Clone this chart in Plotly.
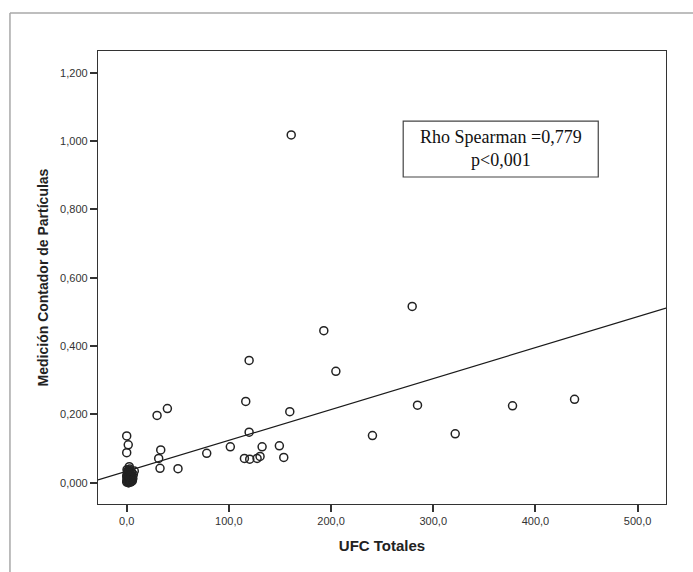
import plotly.graph_objects as go

# UFC Totales (x) and Medición Contador de Partículas (y)
ufc = [161.0, 279.4, 192.9, 119.8, 204.7, 116.5, 159.6, 284.6, 377.6, 438.3,
       119.8, 240.5, 321.5, 101.4, 132.5, 149.4, 115.2, 120.4, 127.6, 130.5,
       153.7, 29.7, 39.8, 0.0, 1.5, 0.0, 33.3, 31.3, 78.3, 32.6, 50.2,
       0.0, 0.5, 1.0, 1.5, 2.0, 0.0, 2.5, 3.0, 1.0, 4.0, 5.0, 7.4, 6.0, 3.5,
       0.3, 4.5, 2.0, 1.0, 5.5, 3.0, 6.5, 2.5, 0.8, 4.2,
       0.2, 1.2, 2.2, 3.2, 4.2, 5.2, 0.6, 1.8, 2.8, 3.8, 4.8, 1.4, 2.4, 3.4,
       0.4, 1.6, 2.6, 3.6, 4.6, 5.0, 0.9, 2.0, 3.0]
medicion = [1.018, 0.516, 0.445, 0.358, 0.326, 0.238, 0.208, 0.227, 0.225, 0.244,
            0.148, 0.138, 0.143, 0.105, 0.105, 0.108, 0.071, 0.069, 0.071, 0.077,
            0.074, 0.197, 0.217, 0.137, 0.111, 0.088, 0.096, 0.071, 0.086, 0.042, 0.041,
            0.002, 0.005, 0.010, 0.003, 0.015, 0.020, 0.047, 0.040, 0.030, 0.025, 0.030,
            0.034, 0.012, 0.008, 0.038, 0.018, 0.000, 0.022, 0.005, 0.028, 0.024,
            0.033, 0.014, 0.006,
            0.008, 0.012, 0.004, 0.016, 0.010, 0.020, 0.026, 0.018, 0.024, 0.002,
            0.014, 0.030, 0.008, 0.022, 0.014, 0.000, 0.018, 0.012, 0.004, 0.016,
            0.034, 0.028, 0.036]

# Fit line (intercept, slope)
fit_intercept = 0.0334
fit_slope = 0.000905

x_range = [-28.1, 527.8]
y_range = [-0.0623, 1.2635]
x_ticks = [0, 100, 200, 300, 400, 500]
x_ticktext = ["0,0", "100,0", "200,0", "300,0", "400,0", "500,0"]
y_ticks = [0, 0.2, 0.4, 0.6, 0.8, 1.0, 1.2]
y_ticktext = ["0,000", "0,200", "0,400", "0,600", "0,800", "1,000", "1,200"]

annot_text = "Rho Spearman =0,779<br>p&lt;0,001"

fig = go.Figure()

fit_x = x_range
fit_y = [fit_intercept + fit_slope * v for v in fit_x]
fig.add_trace(go.Scatter(x=fit_x, y=fit_y, mode="lines",
                         line=dict(color="#1a1a1a", width=1.2),
                         hoverinfo="skip", showlegend=False))

fig.add_trace(go.Scatter(x=ufc, y=medicion, mode="markers",
                         marker=dict(symbol="circle-open", size=8, color="#222222",
                                     line=dict(width=1.5, color="#222222")),
                         showlegend=False))

axis_common = dict(showgrid=False, zeroline=False, showline=True, linecolor="#333333",
                   linewidth=1.3, mirror=True, ticks="outside", ticklen=7,
                   tickcolor="#333333", tickwidth=1.5,
                   tickfont=dict(family="Arial, Liberation Sans", size=11, color="#333333"))

fig.update_xaxes(range=x_range, tickvals=x_ticks, ticktext=x_ticktext,
                 title=dict(text="<b>UFC Totales</b>", standoff=14,
                            font=dict(family="Arial, Liberation Sans", size=15, color="#222222")),
                 **axis_common)
fig.update_yaxes(range=y_range, tickvals=y_ticks, ticktext=y_ticktext,
                 title=dict(text="<b>Medición Contador de Partículas</b>", standoff=8,
                            font=dict(family="Arial, Liberation Sans", size=14, color="#222222")),
                 **axis_common)

# annotation box
fig.add_shape(type="rect", xref="x", yref="y", x0=270.6, x1=461.5, y0=0.8947, y1=1.0585,
              line=dict(color="#444444", width=1.2), fillcolor="white")
fig.add_annotation(x=366.0, y=0.977, xref="x", yref="y", text=annot_text, showarrow=False,
                   font=dict(family="Liberation Serif, Times New Roman", size=18, color="#111111"),
                   align="center")

# outer gray frame
fig.add_shape(type="line", xref="paper", yref="paper", x0=-0.155, x1=1.2, y0=1.084, y1=1.084,
              line=dict(color="#a8a8a8", width=1.5))
fig.add_shape(type="line", xref="paper", yref="paper", x0=-0.155, x1=-0.155, y0=1.084, y1=-0.3,
              line=dict(color="#a8a8a8", width=1.5))

fig.update_layout(width=693, height=572, margin=dict(l=98, r=27, t=51, b=68),
                  paper_bgcolor="white", plot_bgcolor="white", showlegend=False)

fig.write_html("out.html")
